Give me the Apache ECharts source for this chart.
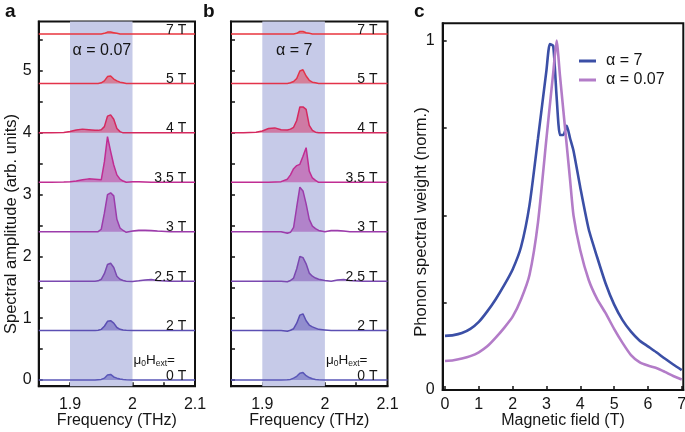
<!DOCTYPE html>
<html>
<head>
<meta charset="utf-8">
<script src="https://cdn.jsdelivr.net/npm/echarts@6/dist/echarts.min.js"></script>
<style>html,body{margin:0;padding:0;background:#fff}#c{width:685px;height:432px}</style>
</head>
<body>
<div id="c"></div>
<script>
// ---------- data ----------
const freq = [1.85,1.87,1.89,1.90,1.91,1.92,1.93,1.94,1.945,1.95,1.955,1.96,1.965,1.97,1.975,1.98,1.985,1.99,2.00,2.01,2.02,2.03,2.04,2.06,2.08,2.10];
const fieldLabels = ['0 T','2 T','2.5 T','3 T','3.5 T','4 T','5 T','7 T'];
const offsets = [0,0.8,1.6,2.4,3.2,4.0,4.8,5.6];

// panel a: alpha = 0.07 (amplitude above each baseline)
const a0T  = [0,0,0,0,0,0,0,0,0.005,0.01,0.03,0.08,0.09,0.05,0.03,0.015,0.008,0.004,0,0,0,0,0,0,0,0];
const a2T  = [0,0,0,0,0,0,0,0,0.005,0.02,0.07,0.15,0.16,0.12,0.05,0.02,0.01,0.005,0,0,0,0,0,0,0,0];
const a25T = [0,0,0,0,0,0,0,0,0.005,0.03,0.12,0.27,0.29,0.22,0.08,0.03,0.01,0,-0.005,0.005,0.02,0.025,0.012,0,0,0];
const a3T  = [0,0,0,0,0,0,0,0,0,0.04,0.30,0.60,0.63,0.58,0.20,0.06,0.02,-0.01,0.01,0.025,0.025,0.02,0.01,0,0,0];
const a35T = [0,0,0.005,0.01,0.02,0.04,0.055,0.05,0.045,0.04,0.33,0.74,0.50,0.28,0.12,0.05,0.02,0,0.01,0.01,0.005,0,0,0,0,0];
const a4T  = [0,0,0.005,0.02,0.045,0.06,0.05,0.04,0.04,0.05,0.10,0.27,0.29,0.22,0.07,0.02,0,0,0,0,0,0,0,0,0,0];
const a5T  = [0,0,0,0,0,0,0,0,0,0.01,0.04,0.11,0.12,0.07,0.04,0.02,0.01,0,0,0,0,0,0,0,0,0];
const a7T  = [0,0,0,0,0,0,0,0,0,0,0.01,0.03,0.03,0.02,0.01,0,0,0,0,0,0,0,0,0,0,0];

// panel b: alpha = 7
const b0T  = [0,0,0,0,0,0,0,0.005,0.01,0.03,0.06,0.11,0.12,0.07,0.04,0.02,0.01,0.005,0,0,0,0,0,0,0,0];
const b2T  = [0,0,0,0,0,0,0,-0.01,0.005,0.03,0.12,0.25,0.27,0.16,0.09,0.06,0.04,0.02,0.01,0,0,0,0,0,0,0];
const b25T = [0,0,0,0,0,0,0,-0.01,0.01,0.05,0.20,0.40,0.38,0.28,0.13,0.08,0.05,0.03,0.01,0,0.02,0.025,0.01,0,0,0];
const b3T  = [0,0,0,0,0,0,0,-0.025,-0.01,0.07,0.40,0.72,0.66,0.45,0.20,0.09,0.05,0.02,0,0.02,0.02,0.01,0,0,0,0];
const b35T = [0,0,0,0,0,0.005,0.01,0.05,0.12,0.22,0.27,0.29,0.42,0.56,0.18,0.07,0.03,0,0,0,0,0,0,0,0,0];
const b4T  = [0,0,0.01,0.03,0.07,0.08,0.05,0.045,0.06,0.09,0.20,0.42,0.42,0.38,0.12,0.04,0.01,0,0,0,0,0,0,0,0,0];
const b5T  = [0,0,0,0,0,0,0,0,0.01,0.03,0.08,0.20,0.22,0.12,0.05,0.02,0.01,0,0,0,0,0,0,0,0,0];
const b7T  = [0,0,0,0,0,0,0,0,0,0,0.01,0.04,0.04,0.02,0.01,0,0,0,0,0,0,0,0,0,0,0];

// panel c
const fieldT = [0,0.25,0.5,0.75,1,1.25,1.5,1.75,2,2.25,2.5,2.75,3,3.1,3.2,3.3,3.4,3.5,3.6,3.7,3.8,4,4.25,4.5,4.75,5,5.25,5.5,5.75,6,6.25,6.5,6.75,7];
const weightAlpha7   = [0.155,0.157,0.163,0.175,0.195,0.225,0.26,0.30,0.345,0.41,0.53,0.72,0.915,0.99,0.985,0.84,0.73,0.73,0.756,0.72,0.685,0.58,0.46,0.38,0.305,0.245,0.20,0.167,0.142,0.125,0.108,0.09,0.073,0.057];
const weightAlpha007 = [0.083,0.085,0.09,0.097,0.108,0.125,0.15,0.178,0.21,0.26,0.33,0.48,0.72,0.815,0.907,1.0,0.9,0.8,0.7,0.6,0.5,0.40,0.315,0.26,0.22,0.175,0.135,0.10,0.08,0.07,0.063,0.052,0.04,0.03];
const legendNames = ['α = 7','α = 0.07'];

// ---------- styles ----------
const FF = "'Liberation Sans', Arial, Helvetica, sans-serif";
const TXT = '#151515';
const lineColors = ['#5a57b8','#5b4fb3','#7a49b0','#9c3cab','#c02d93','#d5295f','#e3334a','#e9363f'];
const bandColor = '#c6cae8';
const specA = [a0T,a2T,a25T,a3T,a35T,a4T,a5T,a7T];
const specB = [b0T,b2T,b25T,b3T,b35T,b4T,b5T,b7T];

function spectra(gi, specs) {
  const out = [];
  out.push({type:'line', xAxisIndex:gi, yAxisIndex:gi, data:[], silent:true,
    markArea:{silent:true, itemStyle:{color:bandColor}, data:[[{xAxis:1.9},{xAxis:2.0}]]}});
  specs.forEach((amp,i)=>{
    out.push({type:'line', xAxisIndex:gi, yAxisIndex:gi, symbol:'none', silent:true,
      data: freq.map((f,j)=>[f, offsets[i]+amp[j]]),
      lineStyle:{color:lineColors[i], width:1.5},
      areaStyle:{color:lineColors[i], opacity:0.5, origin:offsets[i]}});
  });
  return out;
}
// text annotations placed through the axes (custom series)
function textSeries(gi, labelX, alphaText) {
  return [
    {type:'custom', xAxisIndex:gi, yAxisIndex:gi, silent:true, z:5,
     data: fieldLabels.map((t,i)=>[labelX, offsets[i]-0.045]),
     renderItem:(params, api)=>{
       const p = api.coord([api.value(0), api.value(1)]);
       return {type:'text', x:p[0], y:p[1], style:{text:fieldLabels[params.dataIndex], fill:TXT,
         font:"14px 'Liberation Sans', Arial", align:'right', verticalAlign:'bottom'}};
     }},
    {type:'custom', xAxisIndex:gi, yAxisIndex:gi, silent:true, z:5,
     data:[[2.068, 0.2]],
     renderItem:(params, api)=>{
       const p = api.coord([api.value(0), api.value(1)]);
       return {type:'text', x:p[0], y:p[1], style:{text:'{n|μ}{s|0}{n|H}{s|ext}{n|=}', fill:TXT,
         align:'right', verticalAlign:'bottom',
         rich:{n:{fontSize:13.5, fontFamily:FF, fill:TXT, lineHeight:14, verticalAlign:'bottom'},
               s:{fontSize:8.5, fontFamily:FF, fill:TXT, lineHeight:6, verticalAlign:'bottom'}}}};
     }},
    {type:'custom', xAxisIndex:gi, yAxisIndex:gi, silent:true, z:5,
     data:[[1.951, 5.33]],
     renderItem:(params, api)=>{
       const p = api.coord([api.value(0), api.value(1)]);
       return {type:'text', x:p[0], y:p[1], style:{text:alphaText, fill:TXT,
         font:"16px 'Liberation Sans', Arial", align:'center', verticalAlign:'middle'}};
     }}
  ];
}

const axLine = {show:true, onZero:false, lineStyle:{color:'#111', width:2}};
function freqX(gi) {
  return {gridIndex:gi, type:'value', min:1.85, max:2.1, axisLine:axLine,
    axisTick:{inside:true, length:4, customValues:[1.9,1.95,2.0,2.05], lineStyle:{color:'#111', width:1.5}},
    axisLabel:{customValues:[1.9,2.0,2.1], fontSize:16, color:TXT, fontFamily:FF, margin:10},
    splitLine:{show:false},
    name:'Frequency (THz)', nameLocation:'middle', nameGap:26, nameMoveOverlap:false,
    nameTextStyle:{fontSize:16, color:TXT, fontFamily:FF}};
}
function ampY(gi, showLabels) {
  return {gridIndex:gi, type:'value', min:-0.1, max:5.8, axisLine:axLine,
    axisTick:{inside:true, length:4, customValues:[0,0.5,1,1.5,2,2.5,3,3.5,4,4.5,5,5.5], lineStyle:{color:'#111', width:1.5}},
    axisLabel:{show:showLabels, customValues:[0,1,2,3,4,5], fontSize:16, color:TXT, fontFamily:FF, margin:7},
    splitLine:{show:false}};
}

const gridBorder = {show:true, borderColor:'#111', borderWidth:2, backgroundColor:'transparent',
                    containLabel:false, outerBoundsMode:'none'};
const option = {
  animation:false,
  grid:[
    Object.assign({left:38.75, top:21.6, width:156.25, height:364.6}, gridBorder),
    Object.assign({left:231, top:21.6, width:156.5, height:364.6}, gridBorder),
    Object.assign({left:442.7, top:23.2, width:240.6, height:366.8}, gridBorder)
  ],
  xAxis:[freqX(0), freqX(1),
    {gridIndex:2, type:'value', min:-0.068, max:7.047, axisLine:axLine,
     axisTick:{inside:true, length:4, customValues:[0,1,2,3,4,5,6,7], lineStyle:{color:'#111', width:1.5}},
     axisLabel:{customValues:[0,1,2,3,4,5,6,7], fontSize:16, color:TXT, fontFamily:FF, margin:7},
     splitLine:{show:false},
     name:'Magnetic field (T)', nameLocation:'middle', nameGap:23, nameMoveOverlap:false,
     nameTextStyle:{fontSize:16, color:TXT, fontFamily:FF}}],
  yAxis:[ampY(0,true), ampY(1,false),
    {gridIndex:2, type:'value', min:0, max:1.05, axisLine:axLine,
     axisTick:{inside:true, length:4, customValues:[0,0.25,0.5,0.75,1], lineStyle:{color:'#111', width:1.5}},
     axisLabel:{customValues:[0,1], fontSize:16, color:TXT, fontFamily:FF, margin:8},
     splitLine:{show:false}}],
  legend:{left:574, top:48, orient:'vertical', itemWidth:17, itemHeight:3, itemGap:3, icon:'rect',
    textStyle:{fontSize:16, color:TXT, fontFamily:FF, padding:[0,0,0,5]}, data:legendNames},
  graphic:[
    {type:'text', left:5, top:2, style:{text:'a', font:"bold 19px 'Liberation Sans', Arial", fill:'#111'}},
    {type:'text', left:203, top:2, style:{text:'b', font:"bold 19px 'Liberation Sans', Arial", fill:'#111'}},
    {type:'text', left:414, top:2, style:{text:'c', font:"bold 19px 'Liberation Sans', Arial", fill:'#111'}},
    {type:'text', x:11, y:224, rotation:Math.PI/2, style:{text:'Spectral amplitude (arb. units)', font:"16.5px 'Liberation Sans', Arial", fill:TXT, align:'center', verticalAlign:'middle'}},
    {type:'text', x:421, y:222, rotation:Math.PI/2, style:{text:'Phonon spectral weight (norm.)', font:"16.5px 'Liberation Sans', Arial", fill:TXT, align:'center', verticalAlign:'middle'}}
  ],
  series:[
    ...spectra(0, specA),
    ...textSeries(0, 2.086, 'α = 0.07'),
    ...spectra(1, specB),
    ...textSeries(1, 2.084, 'α = 7'),
    {name:legendNames[0], type:'line', xAxisIndex:2, yAxisIndex:2, symbol:'none', smooth:0.2,
     data: fieldT.map((t,i)=>[t, weightAlpha7[i]]), itemStyle:{color:'#3b4fa6'}, lineStyle:{color:'#3b4fa6', width:2.6}},
    {name:legendNames[1], type:'line', xAxisIndex:2, yAxisIndex:2, symbol:'none', smooth:0.2,
     data: fieldT.map((t,i)=>[t, weightAlpha007[i]]), itemStyle:{color:'#b37cc8'}, lineStyle:{color:'#b37cc8', width:2.6}}
  ]
};
const chart = echarts.init(document.getElementById('c'), null, {renderer:'canvas'});
chart.setOption(option);
</script>
</body>
</html>
